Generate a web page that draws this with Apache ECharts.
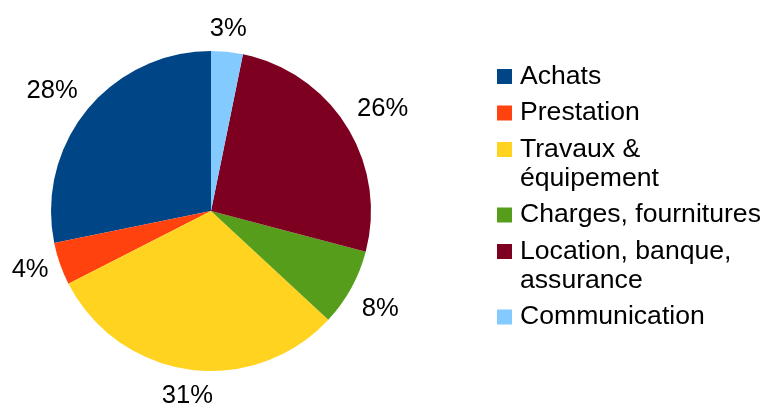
<!DOCTYPE html>
<html><head><meta charset="utf-8">
<script src="https://cdn.jsdelivr.net/npm/echarts@6/dist/echarts.min.js"></script>
<style>html,body{margin:0;padding:0;background:#fff}#c{width:764px;height:405px}</style>
</head><body><div id="c"></div>
<script>
var categories = ['Achats', 'Prestation', 'Travaux &\néquipement', 'Charges, fournitures', 'Location, banque,\nassurance', 'Communication'];
var values = [28.2, 4.3, 30.6, 7.8, 25.9, 3.2];
var colors = ['#004586', '#ff420e', '#ffd320', '#579d1c', '#7e0021', '#83caff'];

var FONT = '"Liberation Sans", Arial, sans-serif';
var SQ = 'path://M0 0L15 0L15 15L0 15Z';
var SQTOP = 'path://M0 0L15 0L15 15L0 15Z M0 44L0.01 44L0 44Z';

var chart = echarts.init(document.getElementById('c'), null, {renderer: 'canvas'});

var option = {
  animation: false,
  backgroundColor: '#ffffff',
  color: colors,
  legend: {
    orient: 'vertical',
    left: 497,
    top: 62,
    padding: 0,
    itemGap: 7.5,
    itemWidth: 15,
    itemHeight: 44,
    symbolKeepAspect: true,
    selectedMode: false,
    itemStyle: {borderWidth: 0},
    textStyle: {fontFamily: FONT, fontSize: 26.6, color: '#000', lineHeight: 29, padding: [0, 0, 0, 3]},
    data: categories.map(function (n) {
      return {name: n, icon: n.indexOf('\n') >= 0 ? SQTOP : SQ};
    })
  },
  series: [{
    type: 'pie',
    center: [211, 211],
    radius: 160,
    startAngle: 90,
    clockwise: false,
    avoidLabelOverlap: false,
    itemStyle: {borderWidth: 0},
    emphasis: {disabled: true},
    label: {
      show: true,
      position: 'outside',
      fontFamily: FONT,
      fontSize: 25.6,
      lineHeight: 24,
      color: '#000',
      formatter: function (p) { return Math.round(p.percent) + '%'; }
    },
    labelLine: {show: false},
    labelLayout: function (p) {
      var data = chart.getModel().getSeriesByIndex(0).getData();
      var L = data.getItemLayout(p.dataIndex);
      if (!L) return {};
      var mid = (L.startAngle + L.endAngle) / 2;
      var dx = Math.cos(mid), dy = Math.sin(mid);
      var R = L.r + 12;
      var sx = Math.abs(dx) > 0.383 ? (dx > 0 ? 1 : -1) : 0;
      var sy = Math.abs(dy) > 0.383 ? (dy > 0 ? 1 : -1) : 0;
      return {
        x: L.cx + dx * R + sx * p.labelRect.width / 2,
        y: L.cy + dy * R + sy * p.labelRect.height / 2 + 2,
        align: 'center',
        verticalAlign: 'middle'
      };
    },
    data: categories.map(function (n, i) { return {name: n, value: values[i]}; })
  }]
};
chart.setOption(option);
</script>
</body></html>
